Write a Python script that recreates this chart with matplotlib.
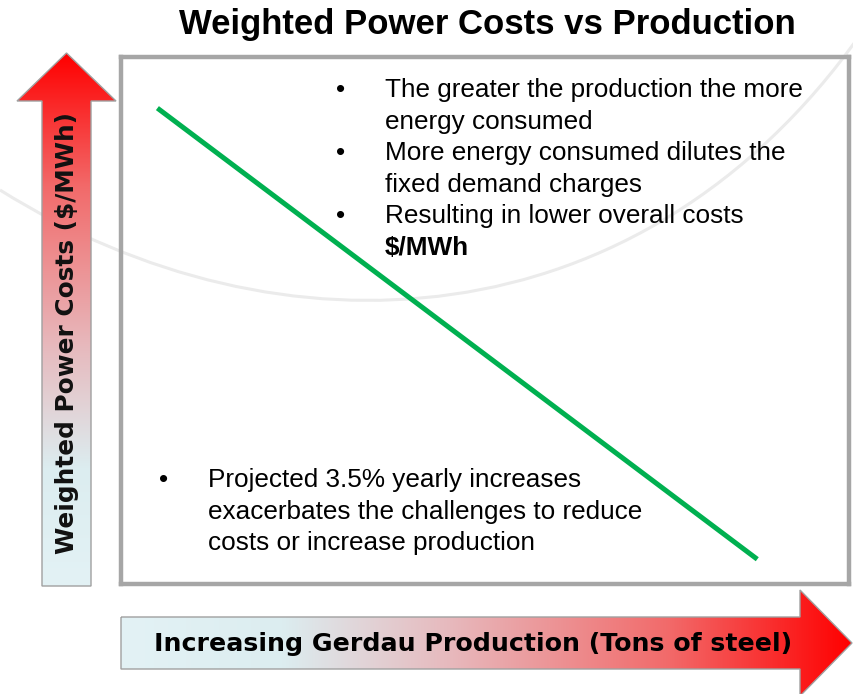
import matplotlib
matplotlib.use("Agg")
import matplotlib.pyplot as plt
from matplotlib.colors import LinearSegmentedColormap
from matplotlib.patches import Polygon, PathPatch
from matplotlib.path import Path
import numpy as np

W, H = 854, 694

# --- data -------------------------------------------------------------------
title = "Weighted Power Costs vs Production"
y_label = "Weighted Power Costs ($/MWh)"
x_label = "Increasing Gerdau Production (Tons of steel)"

production = [5.0, 87.4]      # relative production (0-100)
power_cost = [90.3, 4.7]      # relative weighted cost (0-100)

top_bullets = [
    ["The greater the production the more", "energy consumed"],
    ["More energy consumed dilutes the", "fixed demand charges"],
    ["Resulting in lower overall costs", "$/MWh"],
]
bottom_bullets = [
    ["Projected 3.5% yearly increases",
     "exacerbates the challenges to reduce",
     "costs or increase production"],
]

# --- figure -----------------------------------------------------------------
fig = plt.figure(figsize=(W / 100, H / 100), dpi=100)
bg = fig.add_axes([0, 0, 1, 1])
bg.set_xlim(0, W)
bg.set_ylim(H, 0)
bg.axis("off")

# faint decorative swoosh of the slide template
swoosh = Path([(0, 190), (280, 365), (640, 345), (860, 35)],
              [Path.MOVETO, Path.CURVE4, Path.CURVE4, Path.CURVE4])
bg.add_patch(PathPatch(swoosh, fc="none", ec="#ebebeb", lw=2.2, zorder=0))

grad = LinearSegmentedColormap.from_list(
    "arrow", [(0, "#e3f2f5"), (0.22, "#dcedf0"), (0.45, "#e7b9bd"),
              (0.75, "#f26a6a"), (1, "#ff0000")])


def gradient_arrow(verts, extent, vertical):
    poly = Polygon(verts, closed=True, fc="none", ec="#a0a0a0", lw=1.0, zorder=3)
    bg.add_patch(poly)
    ramp = np.linspace(0, 1, 256)
    img = ramp[:, None] if vertical else ramp[None, :]
    im = bg.imshow(img, cmap=grad, extent=extent, aspect="auto",
                   origin="lower", zorder=2, interpolation="bilinear")
    im.set_clip_path(poly)


# vertical arrow (tail at bottom, tip at top)
gradient_arrow([(66.5, 53), (17, 101), (42, 101), (42, 586), (91, 586),
                (91, 101), (116, 101)],
               (17, 116, 586, 53), True)
# horizontal arrow (tail left, tip right)
gradient_arrow([(121, 617), (800, 617), (800, 590), (852, 643), (800, 696),
                (800, 669), (121, 669)],
               (121, 852, 696, 590), False)
bg.set_xlim(0, W)
bg.set_ylim(H, 0)

bg.text(67, 333, y_label, rotation=90, ha="center", va="center",
        fontsize=17.8, fontweight="bold", family="DejaVu Sans",
        color="#111111", zorder=4, parse_math=False)
bg.text(473, 644, x_label, ha="center", va="center",
        fontsize=18.2, fontweight="bold", family="DejaVu Sans",
        color="#000000", zorder=4, parse_math=False)

bg.text(487, 24, title, ha="center", va="center", fontsize=25,
        fontweight="bold", family="Liberation Sans", color="#000000")

# --- chart frame ------------------------------------------------------------
ax = fig.add_axes([121 / W, 1 - 584 / H, (849 - 121) / W, (584 - 57) / H])
ax.set_facecolor("none")
ax.set_xlim(0, 100)
ax.set_ylim(0, 100)
ax.set_xticks([])
ax.set_yticks([])
for s in ax.spines.values():
    s.set_color("#a6a6a6")
    s.set_linewidth(3.2)
ax.plot(production, power_cost, color="#00b050", lw=3.6,
        solid_capstyle="butt", zorder=3)

# --- bullet notes -----------------------------------------------------------
line_h = 31.6
fs = 18.8


def bullets(items, x_dot, x_txt, y0):
    y = y0
    for item in items:
        bg.text(x_dot, y, "\u2022", ha="center", va="baseline", fontsize=fs,
                family="Liberation Sans", zorder=5)
        for line in item:
            bold = line == "$/MWh"
            bg.text(x_txt, y, line, ha="left", va="baseline", fontsize=fs,
                    family="Liberation Sans",
                    fontweight="bold" if bold else "normal",
                    zorder=5, parse_math=False)
            y += line_h


bullets(top_bullets, 341, 385, 97)
bullets(bottom_bullets, 164, 208, 487)

fig.savefig("out.png", dpi=100)
